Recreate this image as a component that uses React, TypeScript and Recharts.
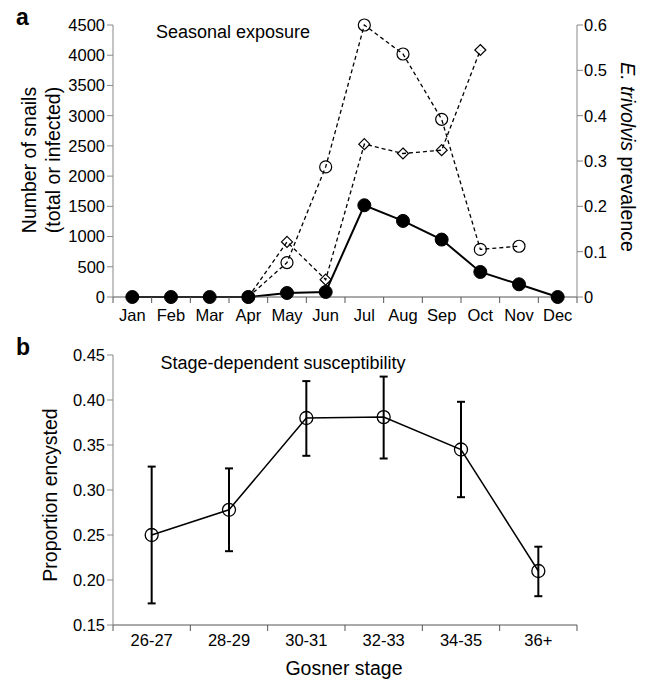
import React from 'react'
import { LineChart, Line, XAxis, YAxis, ErrorBar } from 'recharts'

const months = ['Jan', 'Feb', 'Mar', 'Apr', 'May', 'Jun', 'Jul', 'Aug', 'Sep', 'Oct', 'Nov', 'Dec']
const infectedSnails = [0, 0, 0, 0, 66, 83, 1518, 1259, 950, 414, 210, 0]
const totalSnails = [null, null, null, 0, 911, 287, 2529, 2374, 2429, 4086, null, null]
const prevalence = [null, null, null, 0, 0.076, 0.287, 0.6, 0.536, 0.392, 0.105, 0.112, null]
const snailTicks = [0, 500, 1000, 1500, 2000, 2500, 3000, 3500, 4000, 4500]
const prevTicks = [0, 0.1, 0.2, 0.3, 0.4, 0.5, 0.6]

const stages = ['26-27', '28-29', '30-31', '32-33', '34-35', '36+']
const encysted = [0.25, 0.278, 0.38, 0.381, 0.345, 0.21]
const encystedLow = [0.174, 0.232, 0.338, 0.335, 0.292, 0.182]
const encystedHigh = [0.326, 0.324, 0.421, 0.426, 0.398, 0.237]
const propTicks = [0.15, 0.2, 0.25, 0.3, 0.35, 0.4, 0.45]

const PLOT_LEFT = 113
const PLOT_W = 464
const FONT = '"Liberation Sans", Arial, sans-serif'
const TICK_FS = 16.5

const seasonData = months.map((m, i) => ({
  pos: i + 0.5,
  month: m,
  infected: infectedSnails[i],
  total: totalSnails[i],
  prev: prevalence[i],
}))

const stageData = stages.map((s, i) => ({
  pos: i + 0.5,
  stage: s,
  mean: encysted[i],
  err: [encysted[i] - encystedLow[i], encystedHigh[i] - encysted[i]],
}))

// labels sit half a category to the right of the boundary tick
const makeTick = (labels: string[]) => (props: any) => {
  const { x, y, payload } = props
  const i = payload.value
  if (i >= labels.length) return <g />
  const half = PLOT_W / labels.length / 2
  return (
    <text x={x + half} y={y} dy="0.71em" textAnchor="middle" fontSize={TICK_FS} fill="#000">
      {labels[i]}
    </text>
  )
}

const diamondDot = (props: any) => {
  const { cx, cy, index, value } = props
  if (cx == null || cy == null || value == null) return <g key={`dd-${index}`} />
  const r = 5.5
  return (
    <path
      key={`dd-${index}`}
      d={`M${cx},${cy - r}L${cx + r},${cy}L${cx},${cy + r}L${cx - r},${cy}Z`}
      fill="none"
      stroke="#000"
      strokeWidth={1.2}
    />
  )
}

export default function App() {
  const edgeTicksA = months.map((_, i) => i).concat([months.length])
  const edgeTicksB = stages.map((_, i) => i).concat([stages.length])

  return (
    <div style={{ position: 'absolute', left: 0, top: 0, width: 646, height: 680, background: '#fff', fontFamily: FONT }}>
      <div style={{ position: 'absolute', left: 0, top: 0 }}>
        <LineChart width={646} height={330} data={seasonData} margin={{ top: 25, right: 0, bottom: 0, left: 0 }}>
          <XAxis
            dataKey="pos"
            type="number"
            domain={[0, months.length]}
            ticks={edgeTicksA}
            interval={0}
            height={33}
            stroke="#555"
            tickSize={6}
            tickMargin={6}
            tick={makeTick(months)}
          />
          <YAxis
            yAxisId="left"
            width={PLOT_LEFT}
            domain={[0, 4500]}
            ticks={snailTicks}
            interval={0}
            stroke="#888"
            tickSize={6}
            tickMargin={2}
            tick={{ fill: '#000', fontSize: TICK_FS }}
          />
          <YAxis
            yAxisId="right"
            orientation="right"
            width={69}
            domain={[0, 0.6]}
            ticks={prevTicks}
            interval={0}
            stroke="#888"
            tickSize={6}
            tickMargin={1}
            tick={{ fill: '#000', fontSize: TICK_FS }}
          />
          <Line
            yAxisId="left"
            dataKey="total"
            stroke="#000"
            strokeWidth={1.3}
            strokeDasharray="4 3"
            dot={diamondDot}
            isAnimationActive={false}
          />
          <Line
            yAxisId="right"
            dataKey="prev"
            stroke="#000"
            strokeWidth={1.3}
            strokeDasharray="4 3"
            dot={{ r: 6, fill: 'none', stroke: '#000', strokeWidth: 1.2, strokeDasharray: '' }}
            isAnimationActive={false}
          />
          <Line
            yAxisId="left"
            dataKey="infected"
            stroke="#000"
            strokeWidth={2}
            dot={{ r: 6.5, fill: '#000', stroke: '#000', strokeWidth: 1 }}
            isAnimationActive={false}
          />
        </LineChart>
      </div>

      <div style={{ position: 'absolute', left: 0, top: 330 }}>
        <LineChart width={646} height={325} data={stageData} margin={{ top: 25, right: 69, bottom: 0, left: 0 }}>
          <XAxis
            dataKey="pos"
            type="number"
            domain={[0, stages.length]}
            ticks={edgeTicksB}
            interval={0}
            height={30}
            stroke="#555"
            tickSize={6}
            tickMargin={3}
            tick={makeTick(stages)}
          />
          <YAxis
            width={PLOT_LEFT}
            domain={[0.15, 0.45]}
            ticks={propTicks}
            interval={0}
            stroke="#888"
            tickSize={6}
            tickMargin={2}
            tickFormatter={(v: number) => v.toFixed(2)}
            tick={{ fill: '#000', fontSize: TICK_FS }}
          />
          <Line
            dataKey="mean"
            stroke="#000"
            strokeWidth={1.5}
            dot={{ r: 6.5, fill: 'none', stroke: '#000', strokeWidth: 1.3 }}
            isAnimationActive={false}
          >
            <ErrorBar dataKey="err" direction="y" width={4} stroke="#000" strokeWidth={2} />
          </Line>
        </LineChart>
      </div>

      <svg width={646} height={680} style={{ position: 'absolute', left: 0, top: 0, pointerEvents: 'none', fontFamily: FONT }}>
        <text x={16} y={25} fontSize={23} fontWeight="bold">a</text>
        <text x={16} y={355} fontSize={23} fontWeight="bold">b</text>
        <text x={233} y={38} fontSize={18} textAnchor="middle">Seasonal exposure</text>
        <text x={283} y={369} fontSize={18} textAnchor="middle">Stage-dependent susceptibility</text>
        <text transform="translate(36,160) rotate(-90)" fontSize={19.5} textAnchor="middle">Number of snails</text>
        <text transform="translate(60,160) rotate(-90)" fontSize={19.5} textAnchor="middle">(total or infected)</text>
        <text transform="translate(621,157) rotate(90)" fontSize={19.5} textAnchor="middle">
          <tspan fontStyle="italic">E. trivolvis</tspan>
          <tspan> prevalence</tspan>
        </text>
        <text transform="translate(57,495) rotate(-90)" fontSize={19.5} textAnchor="middle">Proportion encysted</text>
        <text x={344} y={675} fontSize={19.5} textAnchor="middle">Gosner stage</text>
      </svg>
    </div>
  )
}
